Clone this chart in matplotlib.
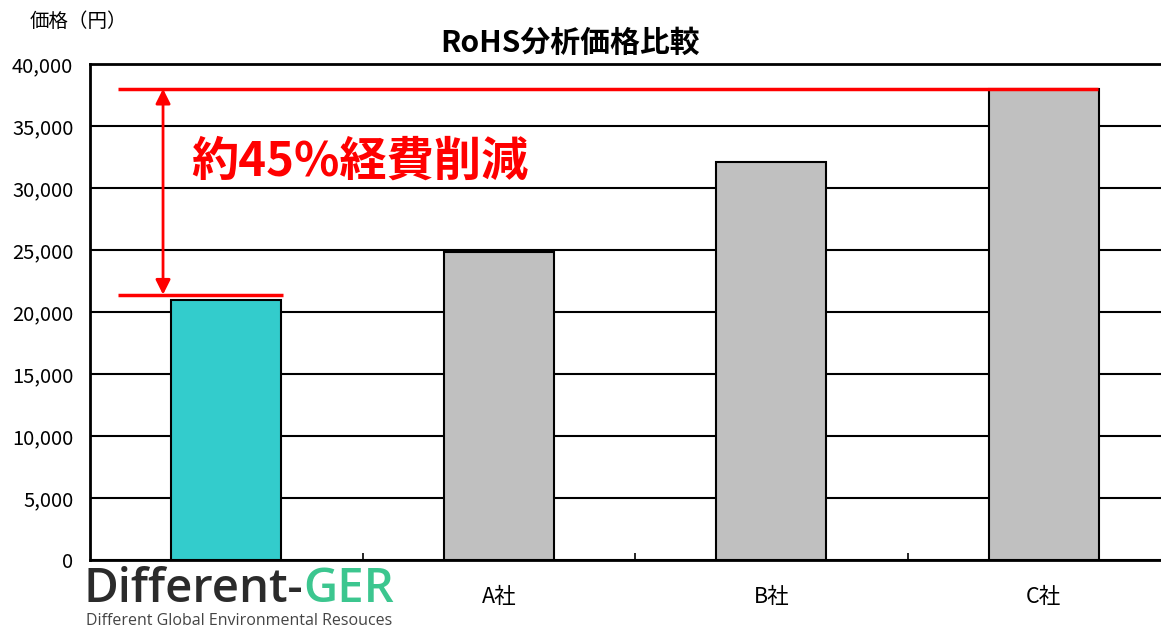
import matplotlib.pyplot as plt
from matplotlib.ticker import FuncFormatter

plt.rcParams['font.family'] = ['Noto Sans CJK JP', 'DejaVu Sans']

# chart data
categories = ['', 'A社', 'B社', 'C社']
prices = [21000, 24800, 32100, 38000]
bar_colors = ['#33CCCC', '#C0C0C0', '#C0C0C0', '#C0C0C0']
yticks = [0, 5000, 10000, 15000, 20000, 25000, 30000, 35000, 40000]

# savings annotation levels
low_level = 21400
high_level = 38000
saving_text = '約45%経費削減'

fig = plt.figure(figsize=(11.61, 6.29), dpi=100)
# axes runs a bit past the right edge of the picture, like the original
ax = fig.add_axes([90 / 1161, 69 / 629, 1090 / 1161, 496 / 629])

ax.bar(range(len(categories)), prices, width=0.405, color=bar_colors,
       edgecolor='black', linewidth=1.5, zorder=3)

ax.set_xlim(-0.5, len(categories) - 0.5)
ax.set_ylim(0, 40000)
ax.set_yticks(yticks)
ax.yaxis.set_major_formatter(FuncFormatter(lambda v, p: f'{int(v):,}'))
ax.yaxis.grid(True, color='black', linewidth=1.5, zorder=1)
ax.set_axisbelow(True)
ax.tick_params(axis='y', length=0, labelsize=14.5, pad=12)

# category boundaries as small inward ticks, labels centred under bars
ax.set_xticks([i + 0.5 for i in range(len(categories) - 1)])
ax.set_xticklabels([])
ax.tick_params(axis='x', direction='in', length=5, width=1.2)
for i, c in enumerate(categories):
    ax.text(i, -2100, c, ha='center', va='top', fontsize=15.5)

for s in ax.spines.values():
    s.set_linewidth(2)

# red lines + double arrow
ax.plot([-0.397, 3.2], [high_level, high_level], color='red', lw=2.5, zorder=4,
        solid_capstyle='butt')
ax.plot([-0.397, 0.208], [low_level, low_level], color='red', lw=2.5, zorder=4,
        solid_capstyle='butt')
ax.annotate('', xy=(-0.232, high_level), xytext=(-0.232, low_level),
            arrowprops=dict(arrowstyle='<|-|>', color='red', lw=2,
                            mutation_scale=22, shrinkA=0, shrinkB=0), zorder=5)
ax.text(-0.13, 32100, saving_text, color='red', fontsize=34, fontweight='bold',
        ha='left', va='center')

ax.set_title('RoHS分析価格比較', fontsize=21.5, fontweight='bold', pad=9,
             x=(570 - 90) / 1090)
fig.text(30 / 1161, 1 - 21 / 629, '価格（円）', fontsize=14, ha='left', va='center')

# logo
t1 = fig.text(84 / 1161, 1 - 589 / 629, 'Different-', fontsize=34, color='#2b2b2b',
              ha='left', va='center', fontweight='semibold',
              family=['Open Sans', 'DejaVu Sans'])
fig.canvas.draw()
bb = t1.get_window_extent()
fig.text(bb.x1 / 1161, 1 - 589 / 629, 'GER', fontsize=34, color='#3CC68F',
         ha='left', va='center', fontweight='semibold',
         family=['Open Sans', 'DejaVu Sans'])
fig.text(86 / 1161, 1 - 621 / 629, 'Different Global Environmental Resouces',
         fontsize=11.5, color='#444444', ha='left', va='center',
         family=['Open Sans', 'DejaVu Sans'])

plt.savefig('out.png', dpi=100)
